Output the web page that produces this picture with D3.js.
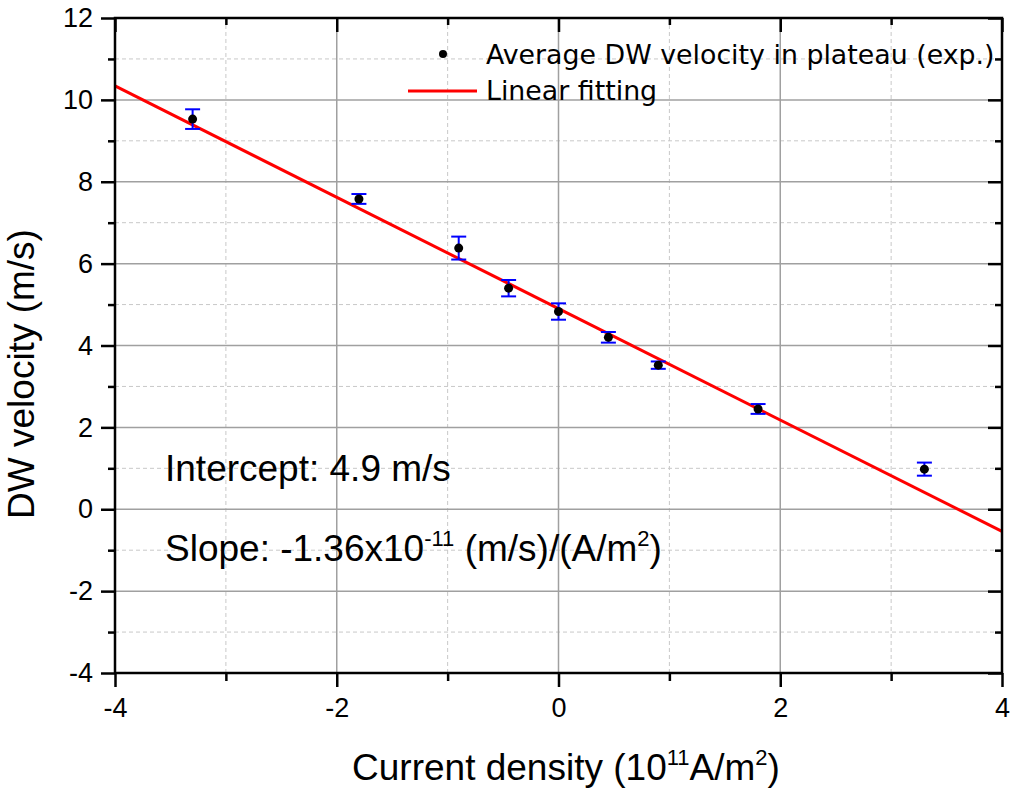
<!DOCTYPE html>
<html>
<head>
<meta charset="utf-8">
<script src="https://cdn.jsdelivr.net/npm/d3@7/dist/d3.min.js"></script>
<style>
  html, body { margin: 0; padding: 0; background: #fff; }
  svg { display: block; }
  .tick text { font-family: "Liberation Sans", Arial, sans-serif; fill: #000; }
</style>
</head>
<body>
<svg id="chart" width="1011" height="788"></svg>
<script>
// Measured current densities (10^11 A/m^2)
const currentDensity = [-3.3, -1.8, -0.9, -0.45, 0, 0.45, 0.9, 1.8, 3.3];
// Average DW velocity in the plateau (m/s)
const velocity = [9.53, 7.58, 6.38, 5.40, 4.83, 4.20, 3.52, 2.45, 0.98];
// Error bar half-widths (m/s)
const velocityErr = [0.24, 0.12, 0.28, 0.20, 0.20, 0.13, 0.09, 0.12, 0.16];
// Linear fit parameters
const fitIntercept = 4.9;
const fitSlope = -1.36;
// Axis ticks
const xMajorTicks = [-4, -2, 0, 2, 4];
const xMinorTicks = [-3, -1, 1, 3];
const yMajorTicks = [-4, -2, 0, 2, 4, 6, 8, 10, 12];
const yMinorTicks = [-3, -1, 1, 3, 5, 7, 9, 11];

const svg = d3.select("#chart");
const pLeft = 115, pRight = 1002, pTop = 18, pBottom = 673;

const x = d3.scaleLinear().domain([-4, 4]).range([pLeft, pRight]);
const y = d3.scaleLinear().domain([-4, 12]).range([pBottom, pTop]);

// Grid: minor dashed, major solid
const grid = svg.append("g");
grid.selectAll(".vminor").data(xMinorTicks).join("line")
  .attr("x1", d => x(d)).attr("x2", d => x(d)).attr("y1", pTop).attr("y2", pBottom)
  .attr("stroke", "#c8c8c8").attr("stroke-width", 1).attr("stroke-dasharray", "4,3");
grid.selectAll(".hminor").data(yMinorTicks).join("line")
  .attr("x1", pLeft).attr("x2", pRight).attr("y1", d => y(d)).attr("y2", d => y(d))
  .attr("stroke", "#c8c8c8").attr("stroke-width", 1).attr("stroke-dasharray", "4,3");
grid.selectAll(".vmajor").data(xMajorTicks.slice(1, -1)).join("line")
  .attr("x1", d => x(d)).attr("x2", d => x(d)).attr("y1", pTop).attr("y2", pBottom)
  .attr("stroke", "#a0a0a0").attr("stroke-width", 1.5);
grid.selectAll(".hmajor").data(yMajorTicks.slice(1, -1)).join("line")
  .attr("x1", pLeft).attr("x2", pRight).attr("y1", d => y(d)).attr("y2", d => y(d))
  .attr("stroke", "#a0a0a0").attr("stroke-width", 1.5);

// Fitted line
const fit = d => fitIntercept + fitSlope * d;
svg.append("line")
  .attr("x1", x(-4)).attr("y1", y(fit(-4)))
  .attr("x2", x(4)).attr("y2", y(fit(4)))
  .attr("stroke", "#ff0000").attr("stroke-width", 3);

// Error bars
const pts = currentDensity.map((d, i) => ({ x: d, y: velocity[i], e: velocityErr[i] }));
const eb = svg.append("g").attr("stroke", "#0000ff").attr("stroke-width", 2);
eb.selectAll(".stem").data(pts).join("line")
  .attr("x1", d => x(d.x)).attr("x2", d => x(d.x))
  .attr("y1", d => y(d.y - d.e)).attr("y2", d => y(d.y + d.e));
eb.selectAll(".capTop").data(pts).join("line")
  .attr("x1", d => x(d.x) - 7.5).attr("x2", d => x(d.x) + 7.5)
  .attr("y1", d => y(d.y + d.e)).attr("y2", d => y(d.y + d.e));
eb.selectAll(".capBot").data(pts).join("line")
  .attr("x1", d => x(d.x) - 7.5).attr("x2", d => x(d.x) + 7.5)
  .attr("y1", d => y(d.y - d.e)).attr("y2", d => y(d.y - d.e));

// Points
svg.append("g").selectAll("circle").data(pts).join("circle")
  .attr("cx", d => x(d.x)).attr("cy", d => y(d.y)).attr("r", 4.5).attr("fill", "#000");

// Axes
const fmt = d => String(d);
function styleAxis(g) {
  g.select(".domain").remove();
  g.selectAll(".tick line").attr("stroke", "#000").attr("stroke-width", 2.5);
}
svg.append("g").attr("transform", `translate(0,${pBottom})`)
  .call(d3.axisBottom(x).tickValues(xMajorTicks).tickFormat(fmt).tickSize(14).tickPadding(11))
  .call(styleAxis).call(g => g.selectAll("text").style("font-size", "27px"));
svg.append("g").attr("transform", `translate(0,${pBottom})`)
  .call(d3.axisBottom(x).tickValues(xMinorTicks).tickFormat("").tickSize(8)).call(styleAxis);
svg.append("g").attr("transform", `translate(${pLeft},0)`)
  .call(d3.axisLeft(y).tickValues(yMajorTicks).tickFormat(fmt).tickSize(14).tickPadding(8))
  .call(styleAxis).call(g => g.selectAll("text").style("font-size", "27px"));
svg.append("g").attr("transform", `translate(${pLeft},0)`)
  .call(d3.axisLeft(y).tickValues(yMinorTicks).tickFormat("").tickSize(7)).call(styleAxis);
svg.append("g").attr("transform", `translate(0,${pTop})`)
  .call(d3.axisTop(x).tickValues(xMajorTicks).tickFormat("").tickSize(-14)).call(styleAxis);
svg.append("g").attr("transform", `translate(0,${pTop})`)
  .call(d3.axisTop(x).tickValues(xMinorTicks).tickFormat("").tickSize(-7)).call(styleAxis);
svg.append("g").attr("transform", `translate(${pRight},0)`)
  .call(d3.axisRight(y).tickValues(yMajorTicks).tickFormat("").tickSize(-14)).call(styleAxis);
svg.append("g").attr("transform", `translate(${pRight},0)`)
  .call(d3.axisRight(y).tickValues(yMinorTicks).tickFormat("").tickSize(-7)).call(styleAxis);

// Frame
svg.append("rect").attr("x", pLeft).attr("y", pTop)
  .attr("width", pRight - pLeft).attr("height", pBottom - pTop)
  .attr("fill", "none").attr("stroke", "#000").attr("stroke-width", 2.5);

// Axis titles
const arial = "'Liberation Sans', Arial, sans-serif";
const xt = svg.append("text").attr("x", 566).attr("y", 780)
  .attr("text-anchor", "middle").attr("font-family", arial).attr("font-size", 37);
xt.append("tspan").text("Current density (10");
xt.append("tspan").attr("font-size", 22).attr("dy", -15).text("11");
xt.append("tspan").attr("dy", 15).text("A/m");
xt.append("tspan").attr("font-size", 22).attr("dy", -15).text("2");
xt.append("tspan").attr("dy", 15).text(")");

svg.append("text").attr("transform", "translate(34,374) rotate(-90)")
  .attr("text-anchor", "middle").attr("font-family", arial).attr("font-size", 37)
  .text("DW velocity (m/s)");

// Fit annotations
svg.append("text").attr("x", 165).attr("y", 481)
  .attr("font-family", arial).attr("font-size", 37).text("Intercept: 4.9 m/s");
const sl = svg.append("text").attr("x", 165).attr("y", 561)
  .attr("font-family", arial).attr("font-size", 37);
sl.append("tspan").text("Slope: -1.36x10");
sl.append("tspan").attr("font-size", 22).attr("dy", -15).text("-11");
sl.append("tspan").attr("dy", 15).text("\u00a0(m/s)/(A/m");
sl.append("tspan").attr("font-size", 22).attr("dy", -15).text("2");
sl.append("tspan").attr("dy", 15).text(")");

// Legend
const dejavu = "'DejaVu Sans', Verdana, sans-serif";
svg.append("circle").attr("cx", 443).attr("cy", 54).attr("r", 4).attr("fill", "#000");
svg.append("text").attr("x", 486).attr("y", 64)
  .attr("font-family", dejavu).attr("font-size", 26.8).text("Average DW velocity in plateau (exp.)");
svg.append("line").attr("x1", 408).attr("x2", 477).attr("y1", 91).attr("y2", 91)
  .attr("stroke", "#ff0000").attr("stroke-width", 3);
svg.append("text").attr("x", 486).attr("y", 100)
  .attr("font-family", dejavu).attr("font-size", 26.8).text("Linear fitting");
</script>
</body>
</html>
